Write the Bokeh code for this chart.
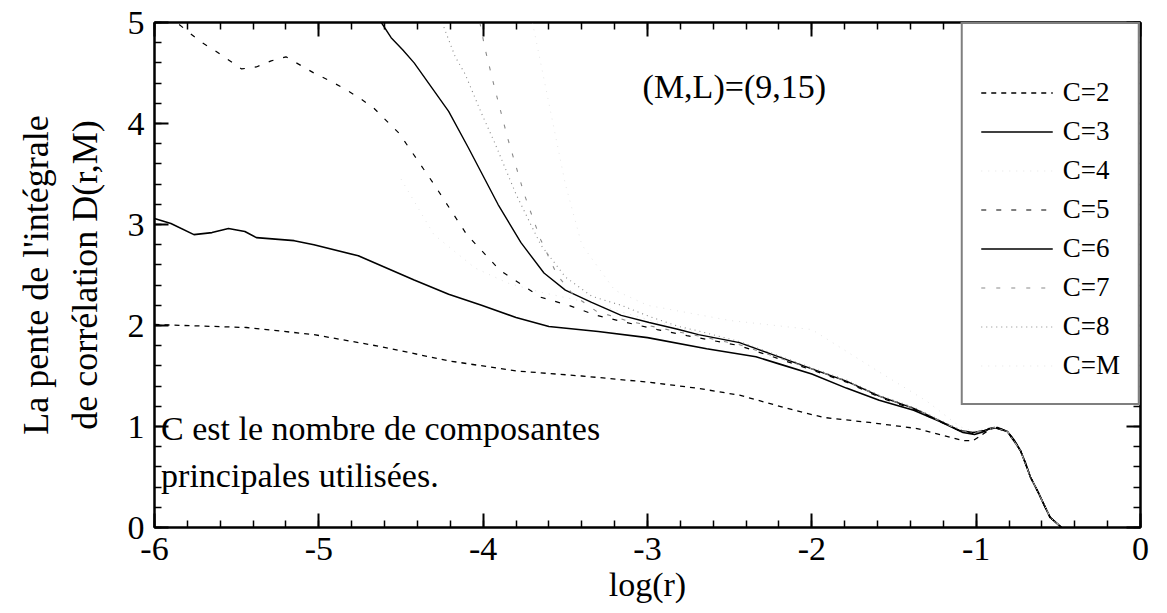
from bokeh.plotting import figure
from bokeh.models import (LinearAxis, SingleIntervalTicker, FixedTicker, Legend,
                          LegendItem, Label, Range1d, CustomJSTickFormatter)
from bokeh.embed import file_html
from bokeh.resources import INLINE

FONT = "Liberation Serif"

# ---- data ----
x_c2 = [-6.00, -5.44, -5.03, -4.62, -4.21, -3.80, -3.40, -3.00, -2.70, -2.44, -2.15, -1.93,
        -1.65, -1.36, -1.22, -1.08, -1.02, -0.97, -0.92, -0.87, -0.81, -0.77, -0.73, -0.70,
        -0.67, -0.62, -0.58, -0.55, -0.48]
y_c2 = [2.01, 1.98, 1.91, 1.79, 1.65, 1.55, 1.50, 1.44, 1.38, 1.31, 1.18, 1.09,
        1.04, 0.98, 0.92, 0.86, 0.86, 0.91, 0.97, 0.99, 0.95, 0.87, 0.76, 0.64,
        0.50, 0.34, 0.20, 0.10, 0.00]

x_c3 = [-6.00, -5.90, -5.76, -5.65, -5.55, -5.45, -5.38, -5.15, -5.03, -4.76, -4.42, -4.21,
        -4.01, -3.80, -3.60, -3.30, -3.00, -2.64, -2.34, -2.20, -2.00, -1.79, -1.59, -1.38,
        -1.22, -1.08, -1.01, -0.95, -0.92, -0.87, -0.81, -0.77, -0.73, -0.70, -0.67, -0.62,
        -0.58, -0.55, -0.48]
y_c3 = [3.06, 3.01, 2.90, 2.92, 2.96, 2.93, 2.87, 2.84, 2.80, 2.69, 2.45, 2.31,
        2.20, 2.08, 1.99, 1.94, 1.88, 1.77, 1.69, 1.62, 1.52, 1.38, 1.26, 1.16,
        1.05, 0.94, 0.92, 0.95, 0.98, 0.99, 0.95, 0.87, 0.76, 0.64, 0.50, 0.34,
        0.20, 0.10, 0.00]

x_c4 = [-4.50, -4.30, -4.05, -3.85, -3.65, -3.34, -3.00, -2.44, -2.20, -2.00, -1.79, -1.59,
        -1.38, -1.24, -1.10, -1.02, -0.95, -0.89, -0.81, -0.73, -0.67, -0.62, -0.55, -0.48]
y_c4 = [3.45, 2.90, 2.57, 2.42, 2.33, 2.22, 2.06, 1.82, 1.69, 1.57, 1.45, 1.30,
        1.18, 1.07, 0.96, 0.94, 0.96, 0.99, 0.95, 0.76, 0.50, 0.34, 0.10, 0.00]

x_c5 = [-5.85, -5.72, -5.63, -5.47, -5.38, -5.29, -5.20, -5.03, -4.93, -4.85, -4.76, -4.67,
        -4.51, -4.30, -4.10, -3.90, -3.65, -3.48, -3.31, -3.13, -2.94, -2.76, -2.44, -2.20,
        -2.00, -1.79, -1.59, -1.38, -1.24, -1.10, -1.02, -0.95, -0.89, -0.81, -0.73, -0.67,
        -0.62, -0.55, -0.48]
y_c5 = [4.98, 4.81, 4.72, 4.54, 4.56, 4.62, 4.66, 4.50, 4.42, 4.35, 4.26, 4.16,
        3.90, 3.40, 2.90, 2.55, 2.28, 2.20, 2.10, 2.03, 1.96, 1.90, 1.80, 1.67,
        1.56, 1.44, 1.29, 1.17, 1.06, 0.96, 0.93, 0.96, 0.99, 0.95, 0.76, 0.50,
        0.34, 0.10, 0.00]

x_c6 = [-4.62, -4.56, -4.49, -4.42, -4.21, -4.09, -3.91, -3.77, -3.63, -3.50, -3.34, -3.16,
        -2.99, -2.81, -2.69, -2.44, -2.20, -2.00, -1.79, -1.59, -1.38, -1.24, -1.10, -1.02,
        -0.95, -0.89, -0.81, -0.73, -0.67, -0.62, -0.55, -0.48]
y_c6 = [5.00, 4.85, 4.73, 4.60, 4.12, 3.76, 3.20, 2.82, 2.52, 2.35, 2.23, 2.10,
        2.03, 1.96, 1.91, 1.83, 1.69, 1.57, 1.45, 1.30, 1.18, 1.07, 0.96, 0.94,
        0.96, 0.99, 0.95, 0.76, 0.50, 0.34, 0.10, 0.00]

x_c7 = [-4.02, -3.99, -3.93, -3.85, -3.75, -3.65, -3.55, -3.45, -3.31, -3.13, -2.94, -2.76,
        -2.44, -2.20, -2.00, -1.79, -1.59, -1.38, -1.24, -1.10, -1.02, -0.95, -0.89, -0.81,
        -0.73, -0.67, -0.62, -0.55, -0.48]
y_c7 = [5.00, 4.75, 4.35, 3.85, 3.30, 2.85, 2.50, 2.30, 2.14, 2.05, 1.98, 1.92,
        1.81, 1.68, 1.57, 1.45, 1.30, 1.18, 1.07, 0.96, 0.94, 0.96, 0.99, 0.95,
        0.76, 0.50, 0.34, 0.10, 0.00]

x_c8 = [-4.25, -4.21, -4.17, -4.11, -4.01, -3.93, -3.80, -3.65, -3.50, -3.34, -3.16, -2.99,
        -2.81, -2.70, -2.44, -2.20, -2.00, -1.79, -1.59, -1.38, -1.24, -1.10, -1.02, -0.95,
        -0.89, -0.81, -0.73, -0.67, -0.62, -0.55, -0.48]
y_c8 = [5.00, 4.83, 4.66, 4.49, 4.10, 3.81, 3.30, 2.80, 2.48, 2.29, 2.20, 2.09,
        1.99, 1.95, 1.84, 1.70, 1.58, 1.46, 1.31, 1.19, 1.08, 0.97, 0.94, 0.96,
        0.99, 0.95, 0.76, 0.50, 0.34, 0.10, 0.00]

x_cm = [-3.70, -3.60, -3.50, -3.40, -3.20, -3.00, -2.50, -2.00, -1.60, -1.30, -1.10, -1.02,
        -0.90, -0.81, -0.73, -0.67, -0.62, -0.55, -0.48]
y_cm = [5.00, 4.20, 3.40, 2.80, 2.35, 2.20, 2.05, 1.96, 1.55, 1.25, 1.00, 0.95,
        1.00, 0.95, 0.76, 0.50, 0.34, 0.10, 0.00]

legend_labels = ["C=2", "C=3", "C=4", "C=5", "C=6", "C=7", "C=8", "C=M"]

# ---- figure ----
p = figure(width=1152, height=605, output_backend="svg", toolbar_location=None,
           x_range=Range1d(-6, 0), y_range=Range1d(0, 5),
           min_border_left=154, min_border_right=12, min_border_top=22, min_border_bottom=66,
           x_axis_label="log(r)", y_axis_label="de corrélation D(r,M)")
p.grid.visible = False
p.outline_line_color = "black"
p.outline_line_width = 2
p.background_fill_color = "white"
p.border_fill_color = "white"

num_fmt = CustomJSTickFormatter(code="return String(Math.round(tick));")
blank_fmt = CustomJSTickFormatter(code="return '';")


def style_axis(ax, show_labels=True):
    ax.ticker = SingleIntervalTicker(interval=1, num_minor_ticks=5)
    ax.major_tick_in = 14
    ax.major_tick_out = 0
    ax.minor_tick_in = 7
    ax.minor_tick_out = 0
    ax.axis_line_width = 2
    ax.axis_line_color = "black"
    ax.major_tick_line_width = 2
    ax.minor_tick_line_width = 1.5
    ax.major_tick_line_color = "black"
    ax.minor_tick_line_color = "black"
    ax.major_label_text_font = FONT
    ax.major_label_text_color = "black"
    ax.major_label_text_font_size = "34px"
    if show_labels:
        ax.formatter = num_fmt
    else:
        ax.formatter = blank_fmt
        ax.major_label_standoff = 0
    ax.axis_label_text_font = FONT
    ax.axis_label_text_font_size = "36px"
    ax.axis_label_text_font_style = "normal"
    ax.axis_label_text_color = "black"


for ax in p.xaxis:
    style_axis(ax)
    ax.major_label_standoff = 10
    ax.axis_label_standoff = 3
    ax.axis_label_text_font_size = "34px"
for ax in p.yaxis:
    style_axis(ax)
    ax.major_label_standoff = 10
    ax.axis_label_standoff = 20

top_ax = LinearAxis()
style_axis(top_ax, show_labels=False)
p.add_layout(top_ax, "above")
right_ax = LinearAxis()
style_axis(right_ax, show_labels=False)
p.add_layout(right_ax, "right")

outer_ax = LinearAxis(ticker=FixedTicker(ticks=[]), axis_label="La pente de l'intégrale",
                      axis_line_color=None, formatter=blank_fmt,
                      major_tick_in=0, major_tick_out=0, minor_tick_in=0, minor_tick_out=0,
                      axis_label_text_font=FONT, axis_label_text_font_size="36px",
                      axis_label_text_font_style="normal", axis_label_text_color="black",
                      axis_label_standoff=6, major_label_standoff=0)
p.add_layout(outer_ax, "left")

# ---- curves ----
r2 = p.line(x_c2, y_c2, line_color="black", line_width=1.3, line_dash="5 5")
r3 = p.line(x_c3, y_c3, line_color="black", line_width=1.6)
r4 = p.line(x_c4, y_c4, line_color="#e4e4e4", line_width=1.0, line_dash="1 6")
r5 = p.line(x_c5, y_c5, line_color="black", line_width=1.2, line_dash="5 10")
r6 = p.line(x_c6, y_c6, line_color="black", line_width=1.4)
r7 = p.line(x_c7, y_c7, line_color="#8a8a8a", line_width=1.1, line_dash="4 11")
r8 = p.line(x_c8, y_c8, line_color="#8a8a8a", line_width=1.1, line_dash="1 4")
rm = p.line(x_cm, y_cm, line_color="#e4e4e4", line_width=1.0, line_dash="1 6")

renderers = [r2, r3, r4, r5, r6, r7, r8, rm]
legend = Legend(items=[LegendItem(label=lab, renderers=[r])
                       for lab, r in zip(legend_labels, renderers)],
                location="top_right")
legend.margin = 0
legend.padding = 18
legend.spacing = 0
legend.glyph_width = 72
legend.glyph_height = 39
legend.label_height = 39
legend.label_standoff = 10
legend.label_text_font = FONT
legend.label_text_font_size = "27px"
legend.label_text_color = "black"
legend.title = " "
legend.title_text_font_size = "27px"
legend.title_standoff = 0
legend.border_line_color = "black"
legend.border_line_width = 2
legend.background_fill_color = "white"
legend.background_fill_alpha = 1.0
p.add_layout(legend)

# ---- texts ----
p.add_layout(Label(x=-3.03, y=4.37, text="(M,L)=(9,15)", text_font=FONT,
                   text_font_size="34px", text_baseline="middle", text_color="black"))
p.add_layout(Label(x=-5.96, y=0.98, text="C est le nombre de composantes", text_font=FONT,
                   text_font_size="34px", text_baseline="alphabetic", text_color="black"))
p.add_layout(Label(x=-5.96, y=0.51, text="principales utilisées.", text_font=FONT,
                   text_font_size="34px", text_baseline="alphabetic", text_color="black"))

open("out.html", "w").write(file_html(p, INLINE))
